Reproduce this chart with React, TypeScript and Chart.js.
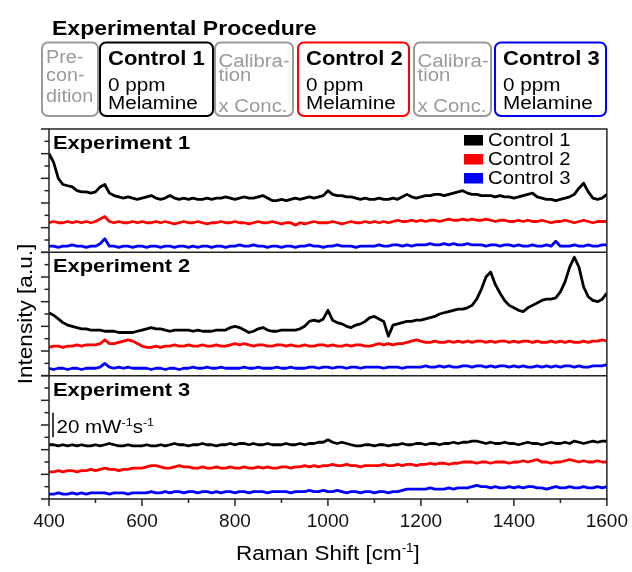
import React, { useEffect, useRef } from 'react';
import { Chart, registerables } from 'chart.js';

Chart.register(...registerables);

// ---------------- data ----------------
const ramanShift = [
  400, 410, 420, 430, 440, 450, 460, 470, 480, 490,
  500, 510, 520, 530, 540, 550, 560, 570, 580, 590,
  600, 610, 620, 630, 640, 650, 660, 670, 680, 690,
  700, 710, 720, 730, 740, 750, 760, 770, 780, 790,
  800, 810, 820, 830, 840, 850, 860, 870, 880, 890,
  900, 910, 920, 930, 940, 950, 960, 970, 980, 990,
  1000, 1010, 1020, 1030, 1040, 1050, 1060, 1070, 1080, 1090,
  1100, 1110, 1120, 1130, 1140, 1150, 1160, 1170, 1180, 1190,
  1200, 1210, 1220, 1230, 1240, 1250, 1260, 1270, 1280, 1290,
  1300, 1310, 1320, 1330, 1340, 1350, 1360, 1370, 1380, 1390,
  1400, 1410, 1420, 1430, 1440, 1450, 1460, 1470, 1480, 1490,
  1500, 1510, 1520, 1530, 1540, 1550, 1560, 1570, 1580, 1590,
  1600,
];

// Experiment 1 (offset intensity units; 20 units = 20 mW^-1 s^-1)
const exp1Control1 = [
  80, 73, 60, 55, 54, 53, 50, 49, 49, 48,
  49, 53, 55, 48, 46, 45, 44, 45, 44, 43,
  44, 45, 46, 44, 43, 44, 46, 44, 43, 44,
  43, 44, 43, 43, 44, 43, 44, 44, 45, 44,
  43, 44, 45, 44, 44, 45, 46, 44, 42, 42,
  43, 42, 43, 44, 43, 44, 45, 44, 45, 46,
  50, 47, 46, 46, 45, 45, 44, 43, 44, 43,
  43, 44, 43, 43, 44, 43, 45, 47, 45, 44,
  45, 46, 46, 47, 47, 46, 47, 48, 49, 50,
  48, 47, 47, 46, 46, 46, 45, 46, 45, 45,
  44, 45, 46, 47, 48, 45, 44, 43, 43, 42,
  43, 44, 45, 47, 52, 56, 49, 44, 43, 44,
  47,
];
const exp1Control2 = [
  24, 25, 24, 24, 25, 24, 25, 24, 25, 24,
  25, 27, 29, 25, 24, 25, 24, 24, 25, 24,
  25, 24, 24, 25, 24, 25, 24, 23, 24, 25,
  24, 24, 25, 24, 23, 24, 24, 25, 24, 24,
  25, 24, 24, 23, 24, 25, 24, 24, 25, 24,
  23, 24, 24, 22, 24, 23, 24, 25, 24, 24,
  24, 25, 24, 23, 24, 25, 24, 24, 25, 24,
  25, 24, 25, 24, 25, 26, 25, 25, 26, 25,
  26, 25, 26, 26, 25, 26, 27, 26, 26, 27,
  26, 27, 26, 26, 27, 26, 25, 26, 26, 25,
  25, 26, 25, 26, 25, 25, 26, 25, 24, 25,
  25, 26, 25, 24, 25, 26, 25, 24, 25, 25,
  25,
];
const exp1Control3 = [
  5, 5, 4, 5, 5, 6, 5, 5, 4, 5,
  5, 7, 11, 5, 5, 4, 5, 5, 4, 5,
  5, 4, 5, 5, 4, 5, 5, 4, 5, 5,
  4, 5, 4, 5, 5, 4, 5, 5, 4, 5,
  5, 6, 5, 5, 6, 5, 5, 4, 5, 5,
  4, 5, 5, 4, 5, 5, 6, 5, 5, 4,
  5, 5, 6, 5, 5, 5, 4, 5, 5, 5,
  5, 6, 5, 5, 6, 6, 5, 6, 5, 6,
  6, 6, 7, 6, 6, 7, 6, 7, 6, 6,
  7, 6, 6, 6, 5, 6, 6, 5, 6, 6,
  5, 6, 5, 5, 6, 5, 5, 6, 5, 9,
  5, 5, 5, 6, 5, 5, 6, 5, 5, 6,
  6,
];

// Experiment 2
const exp2Control1 = [
  51, 49, 46, 43, 41, 40, 39, 38, 38, 37,
  37, 37, 36, 36, 36, 35, 35, 35, 35, 36,
  37, 38, 39, 38, 38, 37, 36, 37, 37, 37,
  37, 36, 37, 36, 36, 36, 37, 37, 37, 39,
  40, 39, 37, 35, 36, 38, 39, 37, 36, 36,
  37, 37, 37, 37, 38, 40, 44, 45, 44, 46,
  53, 45, 43, 42, 40, 39, 41, 42, 44, 47,
  48, 46, 44, 32, 41, 42, 43, 44, 44, 45,
  45, 46, 47, 48, 50, 51, 52, 53, 54, 54,
  55, 57, 62, 70, 80, 84, 74, 67, 61, 57,
  55, 53, 52, 55, 57, 59, 61, 62, 62, 63,
  68, 76, 88, 96, 88, 72, 64, 61, 60, 62,
  67,
];
const exp2Control2 = [
  23, 24, 24, 23, 24, 24, 25, 24, 25, 25,
  25, 26, 29, 26, 26, 27, 28, 29, 28, 26,
  24, 23, 23, 24, 23, 24, 24, 25, 24, 24,
  25, 24, 24, 25, 24, 24, 25, 24, 24, 25,
  26, 25, 26, 25, 24, 25, 25, 24, 24, 25,
  25, 24, 25, 24, 24, 25, 24, 24, 25, 25,
  24, 25, 24, 24, 25, 24, 25, 25, 24, 24,
  25, 26, 25, 26, 25, 26, 26, 27, 28, 29,
  28, 27, 27, 28, 27, 27, 28, 27, 28, 27,
  28, 27, 28, 28, 27, 28, 27, 28, 28, 27,
  28, 27, 28, 28, 27, 28, 27, 27, 28, 27,
  28, 27, 28, 27, 27, 28, 27, 28, 28, 29,
  28,
];
const exp2Control3 = [
  6, 5, 6, 6, 5, 6, 6, 5, 6, 6,
  6, 7, 10, 7, 6, 7, 6, 7, 6, 6,
  6, 6, 5, 6, 6, 5, 6, 6, 5, 6,
  6, 7, 6, 6, 7, 6, 6, 7, 6, 6,
  6, 6, 7, 6, 6, 7, 6, 6, 6, 7,
  6, 6, 7, 6, 6, 6, 7, 7, 6, 7,
  7, 6, 7, 7, 6, 7, 7, 6, 7, 7,
  7, 7, 6, 7, 7, 7, 6, 7, 7, 7,
  7, 8, 7, 7, 8, 7, 8, 7, 7, 8,
  8, 7, 8, 8, 7, 8, 7, 8, 8, 7,
  8, 7, 8, 7, 7, 8, 7, 8, 7, 8,
  7, 8, 8, 7, 8, 7, 7, 8, 8, 8,
  9,
];

// Experiment 3
const exp3Control1 = [
  44, 44, 43, 44, 43, 44, 43, 44, 43, 43,
  44, 43, 44, 45, 44, 43, 43, 44, 43, 43,
  43, 44, 43, 43, 44, 43, 44, 45, 44, 44,
  43, 44, 44, 45, 44, 44, 43, 44, 44, 45,
  44, 45, 45, 44, 45, 44, 44, 45, 44, 44,
  44, 45, 44, 44, 45, 44, 45, 45, 46, 46,
  48, 46, 45, 46, 45, 44, 43, 43, 44, 44,
  43, 44, 44, 43, 44, 44, 45, 44, 44, 45,
  45, 44, 45, 45, 44, 45, 45, 46, 45, 46,
  46, 47, 47, 46, 45, 46, 45, 45, 46, 45,
  45, 44, 45, 46, 45, 45, 44, 45, 46, 45,
  45, 46, 45, 47, 46, 45, 46, 47, 46, 47,
  47,
];
const exp3Control2 = [
  22, 22, 23, 22, 23, 23, 22, 23, 23, 24,
  23, 24, 25, 24, 24, 23, 24, 24, 25, 25,
  25, 26, 27, 27, 26, 25, 25, 26, 27, 26,
  26, 25, 25, 26, 25, 25, 26, 25, 25, 26,
  25, 25, 26, 25, 25, 26, 25, 26, 25, 25,
  26, 26, 25, 26, 26, 27, 26, 27, 26, 27,
  27, 28, 27, 27, 28, 27, 27, 26, 27, 27,
  27, 27, 28, 27, 27, 28, 27, 28, 28, 27,
  28, 28, 29, 28, 29, 29, 28, 29, 29, 30,
  30, 30, 29, 30, 30, 29, 30, 30, 30, 29,
  30, 30, 31, 30, 31, 32, 30, 30, 29, 30,
  30, 31, 32, 31, 30, 31, 30, 30, 31, 30,
  30,
];
const exp3Control3 = [
  4, 4, 5, 4, 4, 5, 4, 5, 4, 5,
  5, 5, 5, 4, 5, 5, 5, 4, 5, 5,
  5, 5, 6, 5, 5, 6, 5, 6, 6, 5,
  6, 6, 5, 6, 6, 5, 6, 5, 6, 6,
  5, 6, 6, 5, 6, 6, 6, 5, 6, 6,
  6, 6, 5, 6, 6, 6, 7, 6, 6, 7,
  6, 6, 7, 6, 5, 6, 6, 5, 6, 6,
  5, 6, 6, 5, 6, 6, 7, 8, 8, 8,
  8, 8, 9, 8, 8, 8, 9, 8, 9, 9,
  9, 10, 11, 10, 10, 9, 10, 9, 9, 10,
  9, 10, 9, 10, 10, 9, 9, 8, 9, 10,
  9, 9, 10, 9, 9, 10, 9, 9, 10, 9,
  10,
];

const seriesLabels = ['Control 1', 'Control 2', 'Control 3'];
const seriesColors = ['#000000', '#ff0000', '#0000ff'];
const panelTitles = ['Experiment 1', 'Experiment 2', 'Experiment 3'];
const panelSeries = [
  [exp1Control1, exp1Control2, exp1Control3],
  [exp2Control1, exp2Control2, exp2Control3],
  [exp3Control1, exp3Control2, exp3Control3],
];
const xTickLabels = ['400', '600', '800', '1000', '1200', '1400', '1600'];
const xAxisTitle = 'Raman Shift [cm';
const yAxisTitle = 'Intensity [a.u.]';
const scaleBarValue = 20; // intensity units covered by the scale bar
const scaleBarText = '20 mW';

const procedureTitle = 'Experimental Procedure';
const stepTitles = ['', 'Control 1', '', 'Control 2', '', 'Control 3'];
const stepLines = [
  ['Pre-', 'con-', 'dition'],
  ['0 ppm', 'Melamine'],
  ['Calibra-', 'tion', 'x Conc.'],
  ['0 ppm', 'Melamine'],
  ['Calibra-', 'tion', 'x Conc.'],
  ['0 ppm', 'Melamine'],
];
const stepColors = ['#9a9a9a', '#000000', '#9a9a9a', '#ff0000', '#9a9a9a', '#0000ff'];

// ---------------- drawing helpers ----------------
const FONT = 'Arial, "Liberation Sans", Helvetica, sans-serif';
const STRETCH = 1.14;
const AXIS_COLOR = '#222222';

function drawText(
  ctx: CanvasRenderingContext2D,
  s: string,
  x: number,
  y: number,
  size: number,
  opts: { bold?: boolean; color?: string; align?: 'left' | 'center'; sx?: number } = {}
): number {
  const sx = opts.sx ?? STRETCH;
  ctx.save();
  ctx.font = `${opts.bold ? 'bold ' : ''}${size}px ${FONT}`;
  ctx.fillStyle = opts.color ?? '#000';
  ctx.textBaseline = 'alphabetic';
  ctx.textAlign = 'left';
  const w = ctx.measureText(s).width * sx;
  const x0 = opts.align === 'center' ? x - w / 2 : x;
  ctx.translate(x0, y);
  ctx.scale(sx, 1);
  ctx.fillText(s, 0, 0);
  ctx.restore();
  return w;
}

function measure(ctx: CanvasRenderingContext2D, s: string, size: number, bold = false, sx = STRETCH) {
  ctx.save();
  ctx.font = `${bold ? 'bold ' : ''}${size}px ${FONT}`;
  const w = ctx.measureText(s).width * sx;
  ctx.restore();
  return w;
}

function line(ctx: CanvasRenderingContext2D, x1: number, y1: number, x2: number, y2: number) {
  ctx.beginPath();
  ctx.moveTo(x1, y1);
  ctx.lineTo(x2, y2);
  ctx.stroke();
}

function roundRect(ctx: CanvasRenderingContext2D, x: number, y: number, w: number, h: number, r: number) {
  ctx.beginPath();
  ctx.moveTo(x + r, y);
  ctx.lineTo(x + w - r, y);
  ctx.arcTo(x + w, y, x + w, y + r, r);
  ctx.lineTo(x + w, y + h - r);
  ctx.arcTo(x + w, y + h, x + w - r, y + h, r);
  ctx.lineTo(x + r, y + h);
  ctx.arcTo(x, y + h, x, y + h - r, r);
  ctx.lineTo(x, y + r);
  ctx.arcTo(x, y, x + r, y, r);
  ctx.closePath();
  ctx.stroke();
}

const decorPlugin = {
  id: 'decor',
  afterDraw(chart: any) {
    const ctx: CanvasRenderingContext2D = chart.ctx;
    const area = chart.chartArea;
    const xs = chart.scales.x;
    const panels = ['y1', 'y2', 'y3'].map((id) => chart.scales[id]);

    ctx.save();
    ctx.strokeStyle = AXIS_COLOR;
    ctx.lineWidth = 1.5;
    ctx.lineCap = 'butt';

    // frame + panel separators
    ctx.strokeRect(area.left, area.top, area.right - area.left, area.bottom - area.top);
    panels.slice(1).forEach((s: any) => line(ctx, area.left, s.top, area.right, s.top));

    // y ticks (outside, major every 20 units)
    panels.forEach((s: any) => {
      s.ticks.forEach((t: any) => {
        const y = s.getPixelForValue(t.value);
        const len = t.value % 20 === 0 ? 8 : 4.5;
        line(ctx, area.left - len, y, area.left, y);
      });
    });

    // x ticks
    xs.ticks.forEach((t: any) => {
      const x = xs.getPixelForValue(t.value);
      const len = t.value % 200 === 0 ? 7 : 4;
      line(ctx, x, area.bottom, x, area.bottom + len);
    });

    // panel titles
    panels.forEach((s: any, i: number) => {
      drawText(ctx, panelTitles[i], area.left + 4, s.top + 20, 19, { bold: true, sx: 1.15 });
    });

    // legend in panel 1
    const p1 = panels[0];
    seriesLabels.forEach((lab, i) => {
      const top = p1.top + 6 + i * 19;
      ctx.fillStyle = seriesColors[i];
      ctx.fillRect(464, top, 19, 10.5);
      drawText(ctx, lab, 488, top + 10.5, 18, { color: '#000', sx: 1.13 });
    });

    // scale bar in panel 3
    const p3 = panels[2];
    const yb0 = p3.getPixelForValue(50);
    const yb1 = p3.getPixelForValue(50 + scaleBarValue);
    ctx.strokeStyle = '#000';
    ctx.lineWidth = 1.5;
    line(ctx, area.left + 4, yb0, area.left + 4, yb1);
    let tx = area.left + 7.5;
    const by = yb0 - 4.5;
    tx += drawText(ctx, scaleBarText, tx, by, 18);
    tx += drawText(ctx, '-1', tx, by - 7, 11);
    tx += drawText(ctx, 's', tx, by, 18);
    drawText(ctx, '-1', tx, by - 7, 11);

    // x axis title with superscript
    const tSize = 20;
    const w1 = measure(ctx, xAxisTitle, tSize, false, 1.12);
    const w2 = measure(ctx, '-1', 12, false, 1.12);
    const w3 = measure(ctx, ']', tSize, false, 1.12);
    let ax = (area.left + area.right) / 2 - (w1 + w2 + w3) / 2;
    const ay = 560;
    ax += drawText(ctx, xAxisTitle, ax, ay, tSize, { sx: 1.12 });
    ax += drawText(ctx, '-1', ax, ay - 8, 12, { sx: 1.12 });
    drawText(ctx, ']', ax, ay, tSize, { sx: 1.12 });

    // y axis title (rotated)
    ctx.save();
    ctx.translate(31.5, (area.top + area.bottom) / 2);
    ctx.rotate(-Math.PI / 2);
    drawText(ctx, yAxisTitle, 0, 0, 20, { align: 'center', sx: 1.13 });
    ctx.restore();

    // ---------------- experimental procedure header ----------------
    drawText(ctx, procedureTitle, 52, 35, 20, { bold: true, sx: 1.15 });
    const boxX = [
      [42, 98],
      [100, 213],
      [215, 293],
      [298, 409],
      [414, 491],
      [495, 606],
    ];
    const boxTop = 42.5;
    const boxBottom = 116;
    boxX.forEach(([x0, x1], i) => {
      ctx.strokeStyle = stepColors[i];
      ctx.lineWidth = 2;
      roundRect(ctx, x0, boxTop, x1 - x0, boxBottom - boxTop, 6);
      const lines = stepLines[i];
      if (stepTitles[i]) {
        drawText(ctx, stepTitles[i], x0 + 8, 65, 19.5, { bold: true, sx: 1.13 });
        drawText(ctx, lines[0], x0 + 8, 91, 18, { sx: 1.15 });
        drawText(ctx, lines[1], x0 + 8, 108.5, 18, { sx: 1.15 });
      } else if (i === 0) {
        const ys = [63, 81, 102];
        lines.forEach((l, k) => drawText(ctx, l, x0 + 4, ys[k], 18, { color: '#9a9a9a', sx: 1.1 }));
      } else {
        const ys = [67, 81, 112];
        lines.forEach((l, k) => drawText(ctx, l, x0 + 3.5, ys[k], 18, { color: '#9a9a9a', sx: 1.13 }));
      }
    });

    ctx.restore();
  },
};

export default function App() {
  const canvasRef = useRef<HTMLCanvasElement | null>(null);

  useEffect(() => {
    const canvas = canvasRef.current;
    if (!canvas) return;

    const datasets: any[] = [];
    panelSeries.forEach((series, p) => {
      series.forEach((vals, c) => {
        datasets.push({
          label: `${panelTitles[p]} – ${seriesLabels[c]}`,
          data: ramanShift.map((x, i) => ({ x, y: vals[i] })),
          yAxisID: `y${p + 1}`,
          borderColor: seriesColors[c],
          backgroundColor: seriesColors[c],
          borderWidth: 2.8,
          pointRadius: 0,
          tension: 0,
          borderJoinStyle: 'round',
          fill: false,
        });
      });
    });

    const yAxis = (weight: number) => ({
      type: 'linear',
      position: 'left',
      stack: 'panels',
      stackWeight: 1,
      weight,
      min: 0,
      max: 100,
      ticks: { display: false, stepSize: 10 },
      grid: { display: false, drawTicks: false },
      border: { display: false },
      afterFit: (s: any) => {
        s.width = 0;
      },
    });

    const chart = new Chart(canvas, {
      type: 'line',
      data: { datasets },
      options: {
        responsive: false,
        animation: false,
        devicePixelRatio: 1,
        events: [],
        layout: { padding: { left: 49, right: 25, top: 129, bottom: 0 } },
        plugins: {
          legend: { display: false },
          tooltip: { enabled: false },
          title: { display: false },
        },
        scales: {
          x: {
            type: 'linear',
            position: 'bottom',
            min: 400,
            max: 1600,
            ticks: {
              stepSize: 100,
              autoSkip: false,
              maxRotation: 0,
              padding: 4,
              color: '#111',
              font: { family: FONT, size: 19 },
              callback: (v: any) => (xTickLabels.includes(String(v)) ? String(v) : ''),
            },
            grid: {
              display: true,
              drawOnChartArea: false,
              drawTicks: true,
              tickLength: 7,
              tickColor: 'rgba(0,0,0,0)',
              color: 'rgba(0,0,0,0)',
            },
            border: { display: false },
            afterFit: (s: any) => {
              s.height = 73;
            },
          },
          y1: yAxis(3),
          y2: yAxis(2),
          y3: yAxis(1),
        } as any,
      },
      plugins: [decorPlugin],
    } as any);

    return () => chart.destroy();
  }, []);

  return (
    <div style={{ position: 'absolute', left: 0, top: 0, width: 632, height: 572, background: '#fff' }}>
      <canvas ref={canvasRef} width={632} height={572} style={{ width: 632, height: 572, display: 'block' }} />
    </div>
  );
}
